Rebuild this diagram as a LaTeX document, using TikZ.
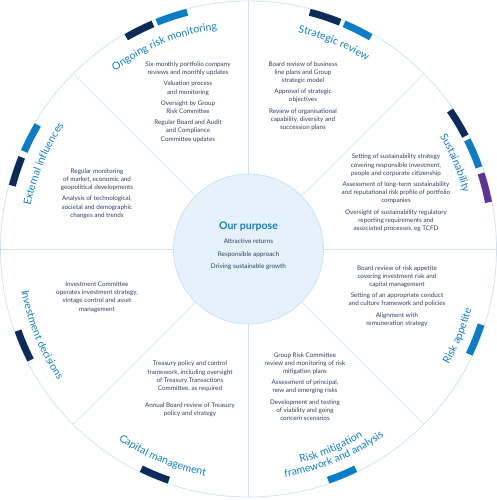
\documentclass[tikz,border=0pt]{standalone}
\usepackage{fontspec}
\setmainfont{Lato}
\usepackage{tikz}
\usetikzlibrary{decorations.text}
\definecolor{rimline}{HTML}{C9E2F4}
\definecolor{barnavy}{HTML}{0C2B58}
\definecolor{barblue}{HTML}{0A7DC6}
\definecolor{barpurple}{HTML}{5B3694}
\definecolor{ringblue}{HTML}{0E80CC}
\definecolor{bodyink}{HTML}{2E3F66}
\definecolor{purposefill}{HTML}{E5F1FB}
\newcommand\ringfont{\fontsize{10.5}{12}\selectfont}
\tikzset{
	sedge/.style={draw=rimline,line width=0.6pt},
	rim/.style={draw=rimline,line width=0.7pt},
	rimbar/.style={line width=7pt},
	bodytxt/.style={align=center,text=bodyink,font=\fontsize{6.3}{8.2}\selectfont,inner sep=0pt},
	purposetxt/.style={text=bodyink,font=\fontsize{6.4}{8}\selectfont,inner sep=0pt},
	toplabel/.style={decorate,decoration={text along path,text align=center,text color=ringblue,text={|\ringfont|#1}}}
}

\begin{document}
\begin{tikzpicture}[x=1pt,y=1pt]
	\useasboundingbox (-248.5,-251) rectangle (248.5,249);
	\draw[rim] (0,0) circle[radius=248];
	\node[circle,minimum size=150pt,fill=purposefill,draw=rimline,line width=0.7pt] (purpose) at (0,0) {};
	\foreach \a in {0,45,...,315} {
		\coordinate (rim\a) at (\a:248);
		\draw[sedge] (purpose.\a) -- (rim\a);
	}
	\foreach \s/\e/\c in {113/120/barnavy,104.5/112/barblue,68/75.5/barnavy,60/67/barblue,
		27.5/34.5/barnavy,19.5/26.5/barblue,11/18/barpurple,-25.5/-18/barblue,289/296/barblue,
		244/251/barnavy,199.5/207/barnavy,149.5/156.5/barblue,158/165/barnavy}
		\draw[rimbar,draw=\c] (\s:244.5) arc[start angle=\s,end angle=\e,radius=244.5];
	\foreach \m/\t in {112.5/Ongoing risk monitoring,67.5/Strategic review,22.5/Sustainability,157.5/External influences}
		\path[toplabel=\t] (\m+22.5:222) arc[start angle=\m+22.5,end angle=\m-22.5,radius=222];
	\foreach \m/\t in {-22.5/Risk appetite,292.5/framework and analysis,247.5/Capital management,202.5/Investment decisions}
		\path[toplabel=\t] (\m-22.5:231) arc[start angle=\m-22.5,end angle=\m+22.5,radius=231];
	\path[toplabel=Risk mitigation] (270:220) arc[start angle=270,end angle=315,radius=220];
	\node[text=ringblue,font=\fontsize{10.5}{12}\bfseries\selectfont,inner sep=0pt] (ptitle) at (0,22) {Our purpose};
	\node[purposetxt] (preturns) at (0,7.5) {Attractive returns};
	\node[purposetxt] (papproach) at (0,-5.3) {Responsible approach};
	\node[purposetxt] (pgrowth) at (0,-18) {Driving sustainable growth};
	\node[bodytxt] (ongoing) at (-60.5,147) {Six-monthly portfolio company\\reviews and monthly updates\\[3pt]
		Valuation process\\and monitoring\\[3pt]Oversight by Group\\Risk Committee\\[3pt]
		Regular Board and Audit\\and Compliance\\Committee updates};
	\node[bodytxt] (strategic) at (54.5,153) {Board review of business\\line plans and Group\\strategic model\\[3pt]
		Approval of strategic\\objectives\\[3pt]Review of organisational\\capability, diversity and\\succession plans};
	\node[bodytxt] (sustain) at (147.5,56) {Setting of sustainability strategy\\covering responsible investment,\\people and corporate citizenship\\[3pt]
		Assessment of long-term sustainability\\and reputational risk profile of portfolio\\companies\\[3pt]
		Oversight of sustainability regulatory\\reporting requirements and\\associated processes, eg TCFD};
	\node[bodytxt] (appetite) at (148.5,-47) {Board review of risk appetite\\covering investment risk and\\capital management\\[3pt]
		Setting of an appropriate conduct\\and culture framework and policies\\[3pt]Alignment with\\remuneration strategy};
	\node[bodytxt] (mitigation) at (56.5,-137.5) {Group Risk Committee\\review and monitoring of risk\\mitigation plans\\[3pt]
		Assessment of principal,\\new and emerging risks\\[3pt]Development and testing\\of viability and going\\concern scenarios};
	\node[bodytxt] (capital) at (-58.5,-140) {Treasury policy and control\\framework, including oversight\\of Treasury Transactions\\Committee, as required\\[8.5pt]
		Annual Board review of Treasury\\policy and strategy};
	\node[bodytxt] (investment) at (-151.5,-48) {Investment Committee\\operates investment strategy,\\vintage control and asset\\management};
	\node[bodytxt] (external) at (-151.5,55.5) {Regular monitoring\\of market, economic and\\geopolitical developments\\[3pt]
		Analysis of technological,\\societal and demographic\\changes and trends};
\end{tikzpicture}
\end{document}
